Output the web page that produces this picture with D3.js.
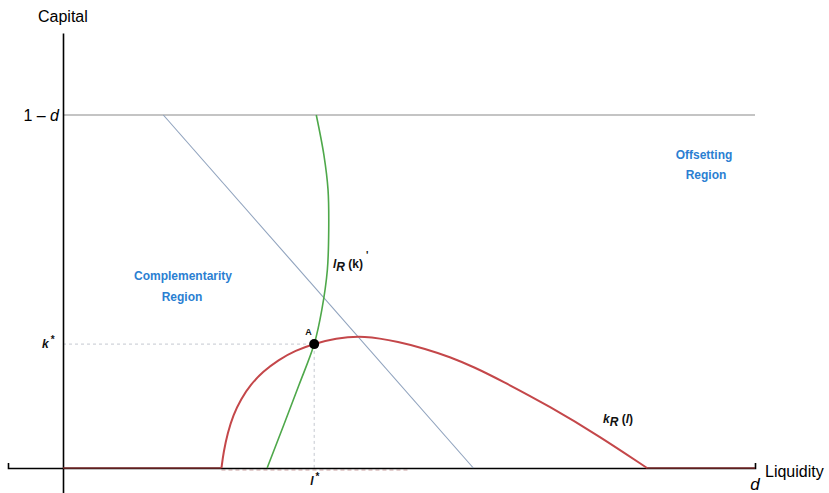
<!DOCTYPE html>
<html lang="en">
<head>
    <meta charset="UTF-8">
    <title>Capital and liquidity</title>
    <script type="text/javascript" src="https://cdnjs.cloudflare.com/ajax/libs/d3/7.8.5/d3.min.js"></script>
</head>
<style>
    body{ margin:0; background:#fff; }
    text{ font-family: "Liberation Sans", Arial, sans-serif; }
    .lbl{ font-weight:bold; font-size:12px; fill:#111; }
    .region{ font-weight:bold; font-size:12px; fill:#2b7fd2; text-anchor:middle; }
</style>
<body>

<script>
// data: liquidity l (0..d) on x, capital k (0..1-d) on y, both scaled to 0..1
var kRCurve = [[0.229,0],[0.232,0.045],[0.238,0.100],[0.246,0.150],[0.257,0.195],
               [0.271,0.236],[0.289,0.273],[0.311,0.306],[0.336,0.333],[0.363,0.352],
               [0.393,0.367],[0.434,0.376],[0.487,0.357],[0.523,0.338],[0.559,0.315],
               [0.595,0.285],[0.632,0.249],[0.704,0.174],[0.776,0.089],[0.844,0]];
var kRFlat  = [[[0,0],[0.229,0]], [[0.844,0],[1,0]]];
var lRCurve = [[0.295,0],[0.319,0.122],[0.341,0.235],[0.363,0.351],[0.374,0.448],
               [0.382,0.561],[0.384,0.674],[0.383,0.788],[0.377,0.887],[0.366,1]];
var diagLine = [[0.145,1],[0.593,0]];
var pointA = [0.363, 0.351];   // l*, k*
var yTicks = [1, pointA[1]];   // "1 - d", "k*"

var width = 829, height = 493;
var svg = d3.select("body").append("svg")
        .attr("width", width)
        .attr("height", height);

var x = d3.scaleLinear().domain([0, 1]).range([63, 755]);
var y = d3.scaleLinear().domain([0, 1]).range([468, 115]);

var line = d3.line().x(function(d){ return x(d[0]); }).y(function(d){ return y(d[1]); });
var basis = d3.line().x(function(d){ return x(d[0]); }).y(function(d){ return y(d[1]); })
        .curve(d3.curveBasis);
var smooth = d3.line().x(function(d){ return x(d[0]); }).y(function(d){ return y(d[1]); })
        .curve(d3.curveCatmullRom.alpha(0.5));

// top bound 1-d
svg.append("line")
    .attr("x1", x(0)).attr("x2", x(1))
    .attr("y1", y(1)).attr("y2", y(1))
    .attr("stroke", "#8a8a8a").attr("stroke-width", 1.2);

// dotted guides to A
svg.append("path")
    .attr("d", line([[0, pointA[1]], pointA, [pointA[0], 0]]))
    .attr("fill", "none").attr("stroke", "#c4c8d0")
    .attr("stroke-width", 1).attr("stroke-dasharray", "3,3");

// dashed red trace under the axis
svg.append("line")
    .attr("x1", x(0.229)).attr("x2", x(0.502))
    .attr("y1", y(0) + 2).attr("y2", y(0) + 2)
    .attr("stroke", "#c9a0a0").attr("stroke-width", 1).attr("stroke-dasharray", "4,3");

// axes
var yAxis = d3.axisLeft(y.copy().domain([-0.071, 1.232]).range([493, 33]))
        .tickValues([]).tickSize(0);
svg.append("g").attr("transform", "translate(63,0)").call(yAxis)
    .select(".domain").attr("stroke", "#000").attr("stroke-width", 1.6);

var xAxis = d3.axisBottom(x.copy().domain([-0.08, 1]).range([8, 755]))
        .tickValues([1]).tickSize(-5).tickFormat("");
var gx = svg.append("g").attr("transform", "translate(0,468)").call(xAxis);
gx.select(".domain").attr("stroke", "#000").attr("stroke-width", 1.6);
gx.selectAll(".tick line").attr("stroke", "#000");

// diagonal
svg.append("path").attr("d", line(diagLine))
    .attr("fill", "none").attr("stroke", "#8fa2bd").attr("stroke-width", 1.1);

// kR(l)
svg.selectAll(".flat").data(kRFlat).enter().append("path")
    .attr("class", "flat")
    .attr("d", line)
    .attr("fill", "none").attr("stroke", "#7a2b2b").attr("stroke-width", 1.6);
svg.append("path").attr("d", basis(kRCurve))
    .attr("fill", "none").attr("stroke", "#c4474a").attr("stroke-width", 2);

// lR(k)
svg.append("path").attr("d", smooth(lRCurve))
    .attr("fill", "none").attr("stroke", "#4ea84a").attr("stroke-width", 1.6);

// point A
svg.append("circle").attr("cx", x(pointA[0])).attr("cy", y(pointA[1])).attr("r", 5).attr("fill", "#000");
svg.append("text").attr("class", "lbl").attr("x", x(pointA[0]) - 9).attr("y", y(pointA[1]) - 9)
    .style("font-size", "9px").text("A");

// axis titles
svg.append("text").attr("x", 38).attr("y", 22).style("font-size", "16px").text("Capital");
svg.append("text").attr("x", 765).attr("y", 477).style("font-size", "16px").text("Liquidity");
svg.append("text").attr("x", x(1)).attr("y", 490).attr("text-anchor", "middle")
    .style("font-size", "17px").style("font-style", "italic").text("d");

// y tick labels
var t1 = svg.append("text").attr("x", 59).attr("y", y(yTicks[0]) + 6)
    .attr("text-anchor", "end").style("font-size", "16px");
t1.append("tspan").text("1 \u2013 ");
t1.append("tspan").style("font-style", "italic").text("d");

var t2 = svg.append("text").attr("class", "lbl").attr("x", 42).attr("y", y(yTicks[1]) + 4);
t2.append("tspan").style("font-style", "italic").text("k");
t2.append("tspan").attr("dx", 2).attr("dy", -5).style("font-size", "10px").text("*");

var t3 = svg.append("text").attr("class", "lbl").attr("x", x(pointA[0]) - 4).attr("y", 485);
t3.append("tspan").style("font-style", "italic").text("l");
t3.append("tspan").attr("dx", 2).attr("dy", -5).style("font-size", "10px").text("*");

// curve labels
var t4 = svg.append("text").attr("class", "lbl").attr("x", 333).attr("y", 268);
t4.append("tspan").style("font-style", "italic").text("l");
t4.append("tspan").attr("dy", 3).style("font-style", "italic").text("R");
t4.append("tspan").attr("dy", -3).text(" (k)");
t4.append("tspan").attr("dx", 3).attr("dy", -9).style("font-size", "10px").text("'");

var t5 = svg.append("text").attr("class", "lbl").attr("x", 603).attr("y", 423);
t5.append("tspan").style("font-style", "italic").text("k");
t5.append("tspan").attr("dy", 3).style("font-style", "italic").text("R");
t5.append("tspan").attr("dy", -3).text(" (");
t5.append("tspan").style("font-style", "italic").text("l");
t5.append("tspan").text(")");

// regions
svg.append("text").attr("class", "region").attr("x", 183).attr("y", 280).text("Complementarity");
svg.append("text").attr("class", "region").attr("x", 182).attr("y", 301).text("Region");
svg.append("text").attr("class", "region").attr("x", 704).attr("y", 159).text("Offsetting");
svg.append("text").attr("class", "region").attr("x", 706).attr("y", 179).text("Region");
</script>
</body>
</html>
